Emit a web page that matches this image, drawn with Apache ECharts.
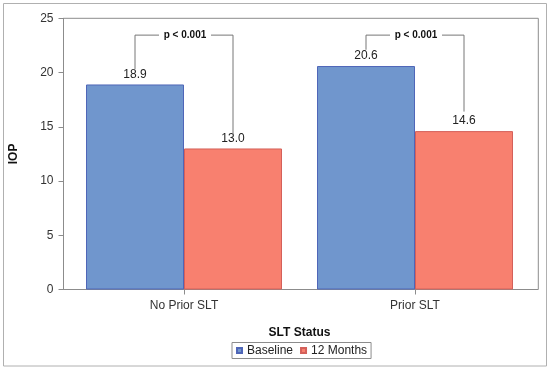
<!DOCTYPE html>
<html>
<head>
<meta charset="utf-8">
<script src="https://cdn.jsdelivr.net/npm/echarts@6/dist/echarts.min.js"></script>
<style>html,body{margin:0;padding:0;background:#fff}#c{width:550px;height:370px}</style>
</head>
<body>
<div id="c"></div>
<script>
const categories = ['No Prior SLT', 'Prior SLT'];
const baseline = [18.9, 20.6];
const months12 = [13.0, 14.6];
const seriesNames = ['Baseline', '12 Months'];
const yTicks = [0, 25, 5];
// bracket: [category index, left leg bottom, right leg bottom, bracket top]
const brackets = [[0, 20.3, 14.2, 23.45], [1, 22.1, 16.4, 23.45]];
const bracketText = ['p < 0.001', 'p < 0.001'];

const FONT = '"Liberation Sans", Arial, sans-serif';
const BAR_W = 98;
const chart = echarts.init(document.getElementById('c'), null, {renderer: 'canvas'});

chart.setOption({
  animation: false,
  textStyle: {fontFamily: FONT},
  graphic: [{
    type: 'rect', z: -10,
    shape: {x: 3.5, y: 3.5, width: 543, height: 362.5},
    style: {fill: null, stroke: '#b0b0b0', lineWidth: 1}
  }],
  grid: [
    {left: 68.5, right: 19.5, top: 18.3, bottom: 80.5, show: false},
    {left: 61.5, right: 11.7, top: 18.3, bottom: 80.5, show: true, borderColor: '#8c8c8c', borderWidth: 1, backgroundColor: 'transparent'}
  ],
  xAxis: [
    {
      type: 'category', gridIndex: 0, data: categories,
      axisLine: {show: false},
      axisTick: {show: true, alignWithLabel: true, length: 5, lineStyle: {color: '#8c8c8c'}},
      axisLabel: {color: '#333', fontSize: 12, margin: 10, fontFamily: FONT},
      name: 'SLT Status', nameLocation: 'middle', nameGap: 37.5,
      nameTextStyle: {fontWeight: 'bold', fontSize: 12, color: '#111', fontFamily: FONT}
    },
    {type: 'value', gridIndex: 1, show: false, min: 0, max: 1}
  ],
  yAxis: [
    {type: 'value', gridIndex: 0, min: yTicks[0], max: yTicks[1], interval: yTicks[2], show: false},
    {
      type: 'value', gridIndex: 1, min: yTicks[0], max: yTicks[1], interval: yTicks[2],
      axisLine: {show: true, lineStyle: {color: '#8c8c8c'}},
      axisTick: {show: true, length: 5, lineStyle: {color: '#8c8c8c'}},
      splitLine: {show: false},
      axisLabel: {color: '#333', fontSize: 12, margin: 10, fontFamily: FONT},
      name: 'IOP', nameLocation: 'middle', nameGap: 43.5,
      nameTextStyle: {fontWeight: 'bold', fontSize: 12, color: '#111', fontFamily: FONT}
    }
  ],
  legend: {
    data: seriesNames,
    left: 232, top: 342.5,
    itemWidth: 5, itemHeight: 5, itemGap: 7,
    padding: [2, 4, 2, 4],
    borderColor: '#8c8c8c', borderWidth: 1,
    icon: 'rect',
    textStyle: {fontSize: 12, color: '#222', fontFamily: FONT}
  },
  series: [
    {
      name: seriesNames[0], type: 'bar', xAxisIndex: 0, yAxisIndex: 0,
      data: baseline, barWidth: BAR_W, barGap: '0%',
      itemStyle: {color: '#7096cd', borderColor: '#4f66b8', borderWidth: 1},
      label: {show: true, position: 'top', distance: 4, color: '#222', fontSize: 12, fontFamily: FONT,
        formatter: p => p.value.toFixed(1)}
    },
    {
      name: seriesNames[1], type: 'bar', xAxisIndex: 0, yAxisIndex: 0,
      data: months12, barWidth: BAR_W, barGap: '0%',
      itemStyle: {color: '#f8806f', borderColor: '#d4605a', borderWidth: 1},
      label: {show: true, position: 'top', distance: 4, color: '#222', fontSize: 12, fontFamily: FONT,
        formatter: p => p.value.toFixed(1)}
    },
    {
      type: 'custom', xAxisIndex: 0, yAxisIndex: 0, z: 5, silent: true,
      data: brackets,
      renderItem: function (params, api) {
        const c = api.coord([api.value(0), 0])[0];
        const xl = c - BAR_W / 2, xr = c + BAR_W / 2;
        const yl = api.coord([api.value(0), api.value(1)])[1];
        const yr = api.coord([api.value(0), api.value(2)])[1];
        const yt = api.coord([api.value(0), api.value(3)])[1];
        const mid = (xl + xr) / 2 + 1;
        const gap = 26;
        const ls = {stroke: '#777', lineWidth: 1, fill: null};
        return {
          type: 'group',
          children: [
            {type: 'polyline', shape: {points: [[xl, yl], [xl, yt], [mid - gap, yt]]}, style: ls},
            {type: 'polyline', shape: {points: [[mid + gap, yt], [xr, yt], [xr, yr]]}, style: ls},
            {type: 'text', x: mid, y: yt, style: {text: bracketText[params.dataIndex], fontFamily: FONT,
              fontSize: 10, fontWeight: 'bold', fill: '#111', align: 'center', verticalAlign: 'middle'}}
          ]
        };
      }
    }
  ]
});
</script>
</body>
</html>
